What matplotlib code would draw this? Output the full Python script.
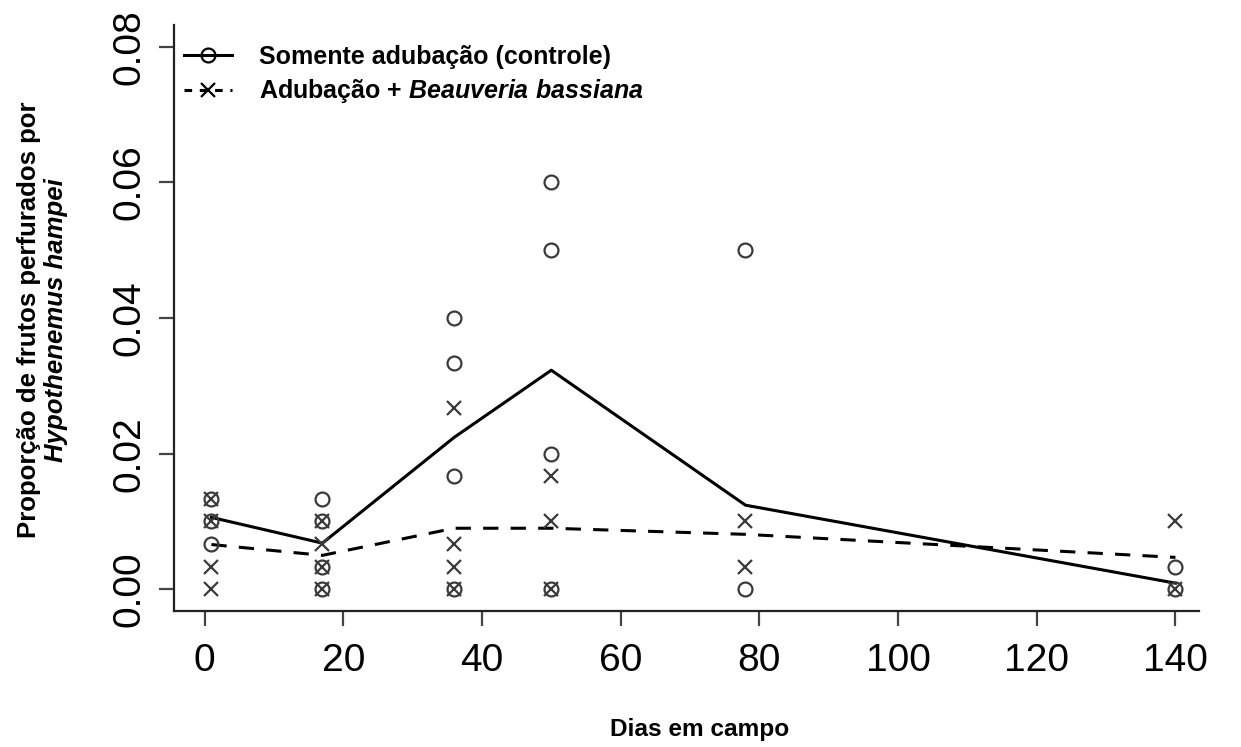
import matplotlib

matplotlib.use("Agg")
import matplotlib.pyplot as plt
from matplotlib.lines import Line2D

# sampling days
dias = [1, 17, 36, 50, 78, 140]

# observed proportions per plot (one list per sampling day)
controle_obs = [
    [0.0133, 0.0100, 0.0067],
    [0.0133, 0.0100, 0.0033, 0.0],
    [0.0400, 0.0333, 0.0167, 0.0],
    [0.0600, 0.0500, 0.0200, 0.0],
    [0.0500, 0.0],
    [0.0033, 0.0],
]
beauveria_obs = [
    [0.0133, 0.0100, 0.0033, 0.0],
    [0.0100, 0.0067, 0.0033, 0.0],
    [0.0267, 0.0067, 0.0033, 0.0],
    [0.0167, 0.0100, 0.0],
    [0.0100, 0.0033],
    [0.0100, 0.0],
]

# fitted curves
controle_fit = [0.0106, 0.0068, 0.0224, 0.0323, 0.0124, 0.0009]
beauveria_fit = [0.0066, 0.0050, 0.0090, 0.0090, 0.0081, 0.0047]

plt.rcParams["font.family"] = ["Liberation Sans", "DejaVu Sans"]
plt.rcParams["mathtext.fontset"] = "custom"
plt.rcParams["mathtext.it"] = "Liberation Sans:italic:bold"
plt.rcParams["mathtext.rm"] = "Liberation Sans:bold"

fig = plt.figure(figsize=(12.41, 7.47), dpi=100)
ax = fig.add_axes([0.1402, 0.1821, 0.826, 0.7844])

mk_color = "#3a3a3a"
for d, vals in zip(dias, controle_obs):
    ax.plot([d] * len(vals), vals, "o", ms=10, mfc="none", mec=mk_color, mew=1.6,
            ls="none", zorder=3)
for d, vals in zip(dias, beauveria_obs):
    ax.plot([d] * len(vals), vals, "x", ms=10, mec=mk_color, mew=1.6,
            ls="none", zorder=3)

ax.plot(dias, controle_fit, color="black", lw=2.2, zorder=2)
ax.plot(dias, beauveria_fit, color="black", lw=2.2, ls=(0, (5, 4)), zorder=2)

ax.set_xlim(-4.4, 143.4)
ax.set_ylim(-0.0032, 0.0832)
ax.set_xticks(range(0, 141, 20))
ax.set_yticks([0.0, 0.02, 0.04, 0.06, 0.08])
ax.set_yticklabels(["0.00", "0.02", "0.04", "0.06", "0.08"])

for s in ("top", "right"):
    ax.spines[s].set_visible(False)
for s in ("left", "bottom"):
    ax.spines[s].set_linewidth(1.6)
    ax.spines[s].set_color("#222222")

ax.tick_params(axis="both", direction="out", length=11, width=1.6,
               color="#444444", labelsize=28)
ax.tick_params(axis="x", pad=12)
ax.tick_params(axis="y", pad=8)
for lab in ax.get_yticklabels():
    lab.set_rotation(90)
    lab.set_va("center")

handles = [
    Line2D([], [], color="black", lw=2.2, marker="o", ms=10, mfc="none",
           mec="black", mew=1.6),
    Line2D([], [], color="black", lw=2.2, ls=(0, (2.5, 2.5)), marker="x",
           ms=10, mec="black", mew=1.6),
]
labels = [
    "Somente adubação (controle)",
    "Adubação + $\\mathit{Beauveria\\ bassiana}$",
]
leg = ax.legend(handles, labels, loc="upper left", bbox_to_anchor=(-0.012, 1.005),
                frameon=False, handlelength=1.9, handletextpad=1.1,
                labelspacing=0.35, prop={"size": 18, "weight": "bold"})

fig.text(0.023, 0.572, "Proporção de frutos perfurados por", rotation=90,
         ha="center", va="center", fontsize=18.5, fontweight="bold")
fig.text(0.045, 0.572, "Hypothenemus hampei", rotation=90, ha="center",
         va="center", fontsize=18.5, fontweight="bold", fontstyle="italic")
fig.text(0.564, 0.023, "Dias em campo", ha="center", va="center",
         fontsize=17.6, fontweight="bold")

fig.savefig("out.png", dpi=100)
